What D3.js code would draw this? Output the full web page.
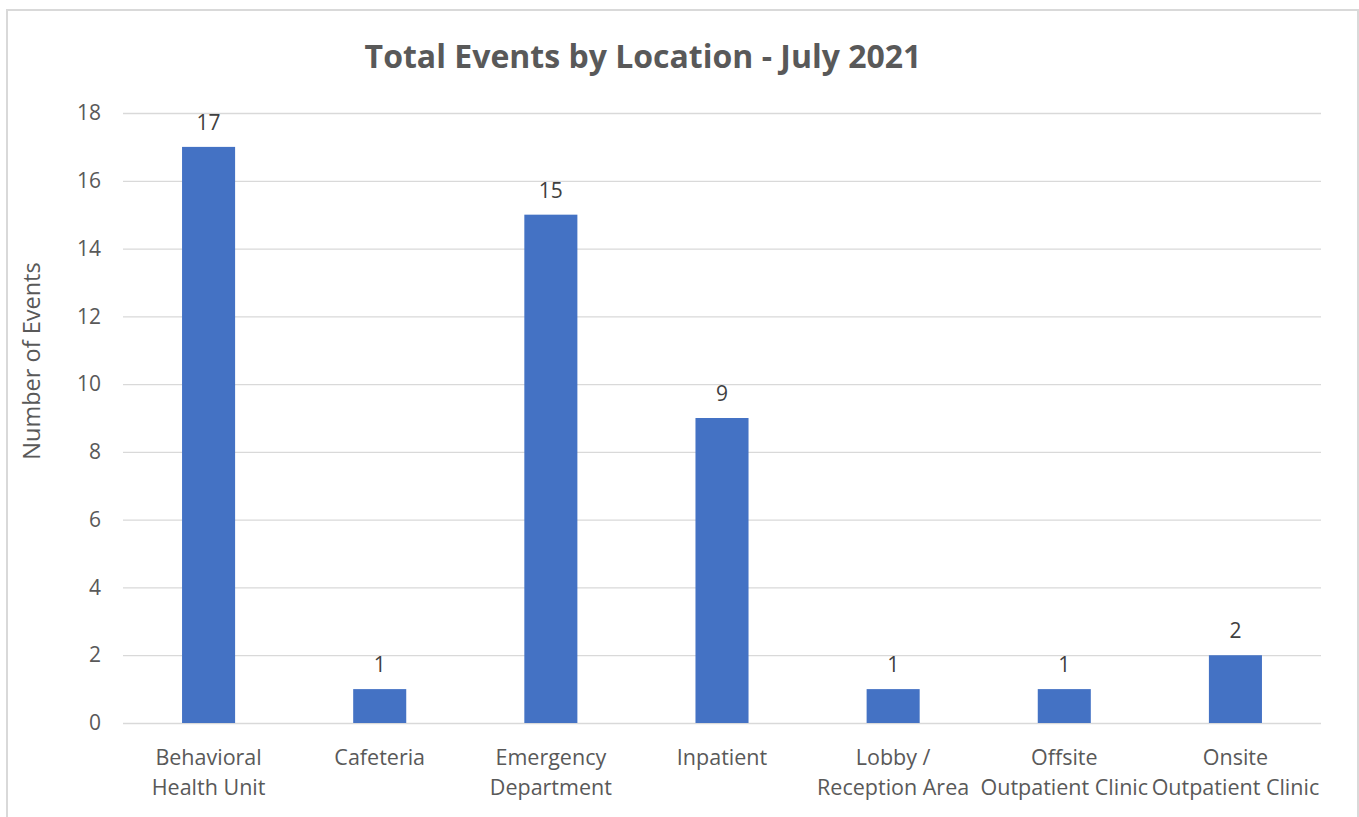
<!DOCTYPE html>
<html><head><meta charset="utf-8">
<script src="https://cdn.jsdelivr.net/npm/d3@7"></script>
<style>body{margin:0;background:#fff}svg{display:block}</style>
</head><body>
<svg id="c" width="1359" height="817"></svg>
<script>
const categories = [["Behavioral","Health Unit"],["Cafeteria"],["Emergency","Department"],["Inpatient"],["Lobby /","Reception Area"],["Offsite","Outpatient Clinic"],["Onsite","Outpatient Clinic"]];
const values = [17,1,15,9,1,1,2];
const yTicks = [0,2,4,6,8,10,12,14,16,18];
const title = "Total Events by Location - July 2021";
const yLabel = "Number of Events";

(function(){
const svg = d3.select("#c");
const font = "'Open Sans', sans-serif";
const txt = "#595959";
svg.append("rect").attr("x",7).attr("y",10).attr("width",1351).attr("height",820)
  .attr("fill","#fff").attr("stroke","#d9d9d9").attr("stroke-width",2);

const pl=123, pr=1321, pt=113, pb=723;
const x = d3.scaleBand().domain(d3.range(categories.length)).range([pl,pr]).paddingInner(0.69).paddingOuter(0.345);
const y = d3.scaleLinear().domain([0,18]).range([pb,pt]);

const ya = svg.append("g").attr("transform",`translate(${pl},0)`)
  .call(d3.axisLeft(y).tickValues(yTicks).tickSize(-(pr-pl)).tickPadding(22));
ya.select(".domain").remove();
ya.selectAll(".tick line").attr("stroke","#d9d9d9").attr("stroke-width",1.3);
ya.selectAll(".tick text").attr("font-family",font).attr("font-size",21).attr("fill",txt);

svg.append("g").selectAll("rect").data(values).join("rect")
  .attr("x",(d,i)=>x(i)).attr("width",x.bandwidth())
  .attr("y",d=>y(d)).attr("height",d=>y(0)-y(d)).attr("fill","#4472c4");

svg.append("g").selectAll("text").data(values).join("text")
  .attr("x",(d,i)=>x(i)+x.bandwidth()/2).attr("y",d=>y(d)-17)
  .attr("text-anchor","middle").attr("font-family",font).attr("font-size",21).attr("fill","#404040")
  .text(d=>d);

const xa = svg.append("g");
categories.forEach((lines,i)=>{
  const cx = x(i)+x.bandwidth()/2;
  const t = xa.append("text").attr("x",cx).attr("y",765)
    .attr("text-anchor","middle").attr("font-family",font).attr("font-size",21.5).attr("fill",txt);
  lines.forEach((l,j)=>t.append("tspan").attr("x",cx).attr("dy",j?30:0).text(l));
});

svg.append("text").attr("x",643).attr("y",68).attr("text-anchor","middle")
  .attr("font-family",font).attr("font-weight","bold").attr("font-size",32).attr("fill",txt).text(title);

svg.append("text").attr("transform","translate(40,361) rotate(-90)").attr("text-anchor","middle")
  .attr("font-family",font).attr("font-size",23.5).attr("fill",txt).text(yLabel);
})();
</script>
</body></html>
